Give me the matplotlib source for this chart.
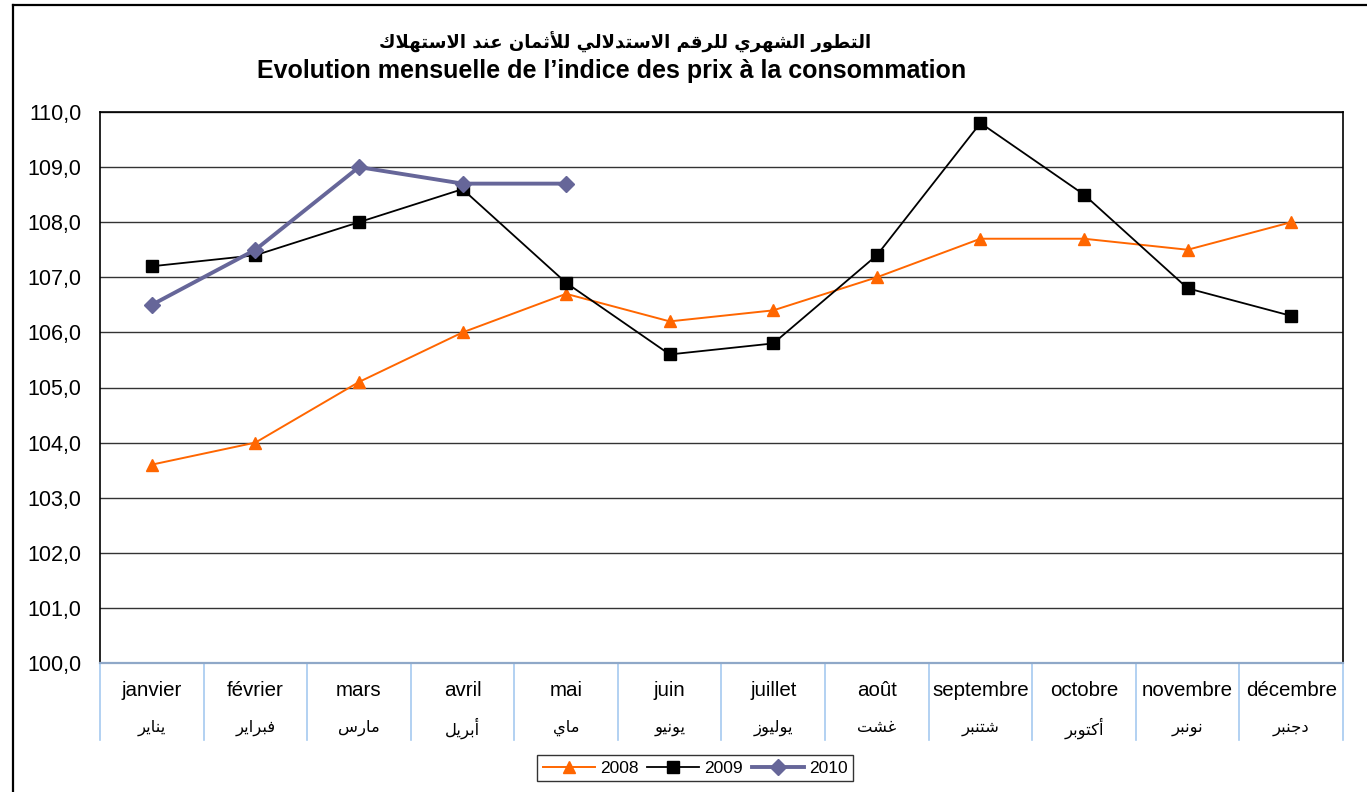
import matplotlib
matplotlib.use("Agg")
import matplotlib.pyplot as plt
from matplotlib.lines import Line2D
import matplotlib.transforms as mtransforms

# ---------------- data ----------------
months_fr = ["janvier", "février", "mars", "avril", "mai", "juin", "juillet",
             "août", "septembre", "octobre", "novembre", "décembre"]
months_ar = ["يناير", "فبراير", "مارس", "أبريل", "ماي", "يونيو", "يوليوز",
             "غشت", "شتنبر", "أكتوبر", "نونبر", "دجنبر"]
series_names = ["2008", "2009", "2010"]
cpi_2008 = [103.6, 104.0, 105.1, 106.0, 106.7, 106.2, 106.4, 107.0, 107.7, 107.7, 107.5, 108.0]
cpi_2009 = [107.2, 107.4, 108.0, 108.6, 106.9, 105.6, 105.8, 107.4, 109.8, 108.5, 106.8, 106.3]
cpi_2010 = [106.5, 107.5, 109.0, 108.7, 108.7]
y_ticks = [100, 101, 102, 103, 104, 105, 106, 107, 108, 109, 110]
title_ar = "التطور الشهري للرقم الاستدلالي للأثمان عند الاستهلاك"
title_fr = "Evolution mensuelle de l’indice des prix à la consommation"

# ---------------- minimal Arabic shaping (presentation forms + RTL) ----------------
FORMS = {  # isolated, final, initial, medial
    'ا': (0xFE8D, 0xFE8E, None, None), 'أ': (0xFE83, 0xFE84, None, None),
    'ب': (0xFE8F, 0xFE90, 0xFE91, 0xFE92), 'ت': (0xFE95, 0xFE96, 0xFE97, 0xFE98),
    'ث': (0xFE99, 0xFE9A, 0xFE9B, 0xFE9C), 'ج': (0xFE9D, 0xFE9E, 0xFE9F, 0xFEA0),
    'د': (0xFEA9, 0xFEAA, None, None), 'ر': (0xFEAD, 0xFEAE, None, None),
    'ز': (0xFEAF, 0xFEB0, None, None), 'س': (0xFEB1, 0xFEB2, 0xFEB3, 0xFEB4),
    'ش': (0xFEB5, 0xFEB6, 0xFEB7, 0xFEB8), 'ط': (0xFEC1, 0xFEC2, 0xFEC3, 0xFEC4),
    'ع': (0xFEC9, 0xFECA, 0xFECB, 0xFECC), 'غ': (0xFECD, 0xFECE, 0xFECF, 0xFED0),
    'ف': (0xFED1, 0xFED2, 0xFED3, 0xFED4), 'ق': (0xFED5, 0xFED6, 0xFED7, 0xFED8),
    'ك': (0xFED9, 0xFEDA, 0xFEDB, 0xFEDC), 'ل': (0xFEDD, 0xFEDE, 0xFEDF, 0xFEE0),
    'م': (0xFEE1, 0xFEE2, 0xFEE3, 0xFEE4), 'ن': (0xFEE5, 0xFEE6, 0xFEE7, 0xFEE8),
    'ه': (0xFEE9, 0xFEEA, 0xFEEB, 0xFEEC), 'و': (0xFEED, 0xFEEE, None, None),
    'ي': (0xFEF1, 0xFEF2, 0xFEF3, 0xFEF4),
}
LAM_ALEF = {'ا': (0xFEFB, 0xFEFC), 'أ': (0xFEF7, 0xFEF8)}


def shape_ar(text):
    words = []
    for word in text.split(' '):
        toks = []
        i = 0
        while i < len(word):
            c = word[i]
            if c == 'ل' and i + 1 < len(word) and word[i + 1] in LAM_ALEF:
                toks.append(('LA', word[i + 1]))
                i += 2
            else:
                toks.append(('C', c))
                i += 1

        def joins_next(t):
            if t[0] == 'LA':
                return False
            f = FORMS.get(t[1])
            return f is not None and f[2] is not None

        def joins_prev(t):
            return t[0] == 'LA' or t[1] in FORMS

        res = ''
        for k, t in enumerate(toks):
            prev = toks[k - 1] if k > 0 else None
            nxt = toks[k + 1] if k + 1 < len(toks) else None
            jp = prev is not None and joins_next(prev) and joins_prev(t)
            jn = nxt is not None and joins_next(t) and joins_prev(nxt)
            if t[0] == 'LA':
                iso, fin = LAM_ALEF[t[1]]
                res += chr(fin if jp else iso)
                continue
            f = FORMS.get(t[1])
            if f is None:
                res += t[1]
                continue
            if jp and jn:
                cp = f[3]
            elif jp:
                cp = f[1]
            elif jn:
                cp = f[2]
            else:
                cp = f[0]
            res += chr(cp)
        words.append(res)
    return ' '.join(words)[::-1]


# ---------------- figure ----------------
W, H = 1367, 792
fig = plt.figure(figsize=(W / 100, H / 100), dpi=100)
fig.patch.set_facecolor('white')
LAT = ['Liberation Sans', 'DejaVu Sans']
AR = ['DejaVu Sans']

ax = fig.add_axes([100 / W, 1 - 663 / H, 1243 / W, 551 / H])
x = list(range(len(months_fr)))

ax.plot(x, cpi_2008, color='#FF6600', lw=1.4, marker='^', ms=8,
        markeredgecolor='#FF6600', label=series_names[0], zorder=3)
ax.plot(x, cpi_2009, color='black', lw=1.3, marker='s', ms=9,
        markeredgecolor='black', label=series_names[1], zorder=4)
ax.plot(x[:len(cpi_2010)], cpi_2010, color='#666699', lw=2.8, marker='D', ms=8,
        markeredgecolor='#666699', label=series_names[2], zorder=5)

ax.set_xlim(-0.5, len(months_fr) - 0.5)
ax.set_ylim(100, 110)
ax.set_yticks(y_ticks)
ax.set_yticklabels([f"{v:.1f}".replace('.', ',') for v in y_ticks],
                   fontsize=15.5, family=LAT)
ax.tick_params(axis='y', length=0, pad=13.5)
ax.yaxis.grid(True, color='#333333', lw=1.0)
ax.set_axisbelow(True)

ax.set_xticks(x)
ax.set_xticklabels(months_fr, fontsize=14.8, family=LAT)
ax.tick_params(axis='x', length=0, pad=13)

trans = mtransforms.blended_transform_factory(ax.transData, ax.transAxes)
for xi, lab in zip(x, months_ar):
    ax.text(xi, -65 / 551, shape_ar(lab), transform=trans, ha='center', va='center',
            fontsize=11.8, family=AR)
for b in range(len(months_fr) + 1):
    ax.plot([b - 0.5, b - 0.5], [0, -77 / 551], transform=trans, color='#A6CAF0',
            lw=1.2, clip_on=False)

for s in ['top', 'left', 'right']:
    ax.spines[s].set_color('black')
    ax.spines[s].set_linewidth(1.2)
ax.spines['bottom'].set_color('#8FA8C8')
ax.spines['bottom'].set_linewidth(1.6)

# titles
fig.text(625 / W, 1 - 42 / H, shape_ar(title_ar), ha='center', va='center',
         fontsize=13, fontweight='bold', family=AR)
fig.text(612 / W, 1 - 71 / H, title_fr, ha='center', va='center',
         fontsize=18, fontweight='bold', family=LAT)

# legend
leg = fig.legend(loc='center', bbox_to_anchor=(695 / W, 1 - 768 / H), ncol=3,
                 frameon=True, fancybox=False, edgecolor='black',
                 handlelength=3.0, columnspacing=0.5, handletextpad=0.3,
                 borderpad=0.3, prop={'family': LAT, 'size': 12.5})
leg.get_frame().set_linewidth(1.0)

# outer frame (left and top edges visible)
fig.add_artist(Line2D([13 / W, 13 / W], [0, 1 - 5 / H], color='black', lw=1.6,
                      transform=fig.transFigure))
fig.add_artist(Line2D([13 / W, 1], [1 - 5 / H, 1 - 5 / H], color='black', lw=1.6,
                      transform=fig.transFigure))

fig.savefig('out.png', dpi=100)
